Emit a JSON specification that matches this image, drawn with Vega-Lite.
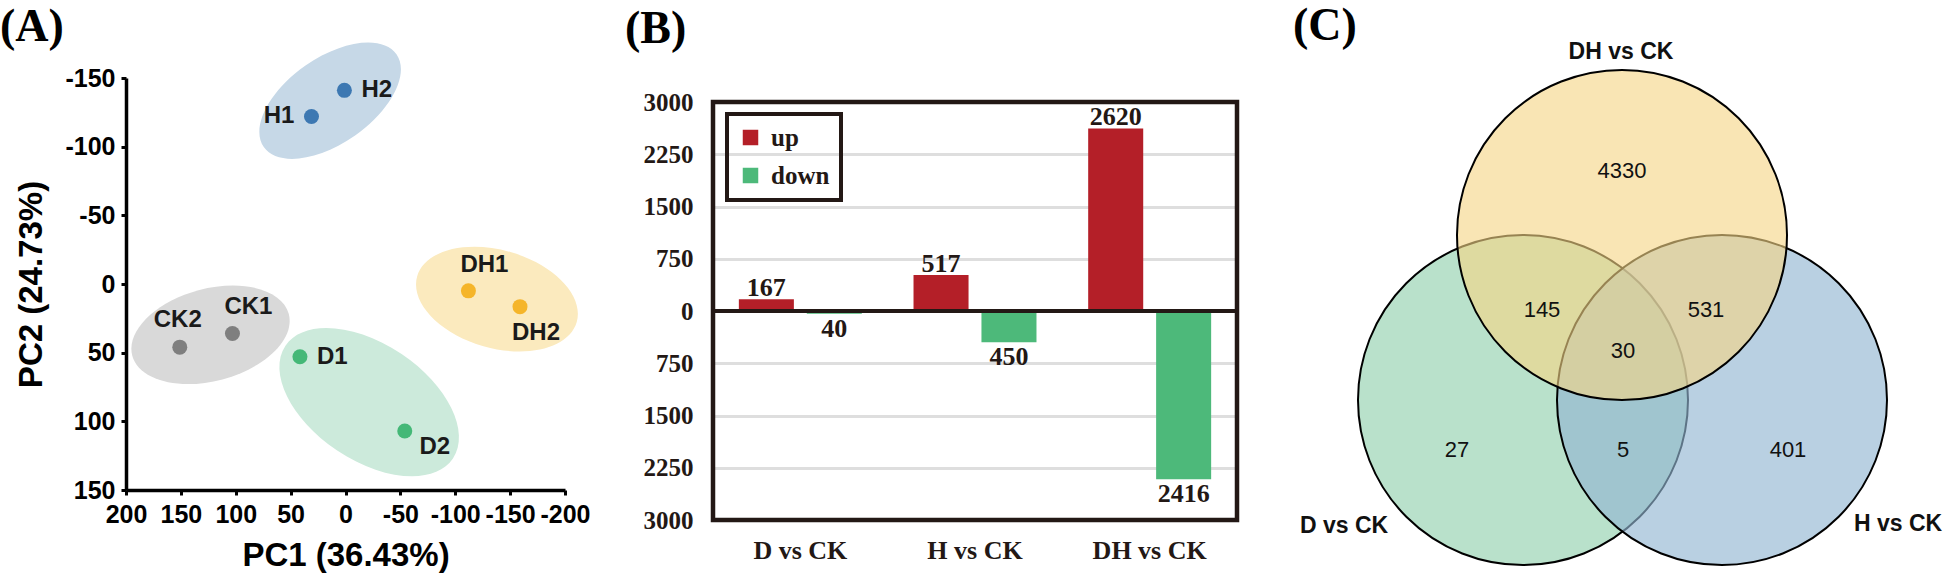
{
  "$schema": "https://vega.github.io/schema/vega-lite/v6.json",
  "padding": {"left": 0, "top": 3, "right": 0, "bottom": 0},
  "background": "white",
  "bounds": "flush",
  "spacing": 148,
  "resolve": {"scale": {"color": "independent"}, "legend": {"color": "independent"}},
  "config": {
    "view": {"stroke": null},
    "title": {"font": "Liberation Serif", "fontSize": 46, "fontWeight": "bold", "color": "black", "anchor": "start", "frame": "group"}
  },
  "datasets": {
    "pca": [
      {"sample": "H1", "group": "H", "x": 31, "y": -122},
      {"sample": "H2", "group": "H", "x": 1, "y": -141},
      {"sample": "CK1", "group": "CK", "x": 103, "y": 36},
      {"sample": "CK2", "group": "CK", "x": 151, "y": 46},
      {"sample": "D1", "group": "D", "x": 41.5, "y": 53},
      {"sample": "D2", "group": "D", "x": -54, "y": 107},
      {"sample": "DH1", "group": "DH", "x": -112, "y": 5},
      {"sample": "DH2", "group": "DH", "x": -159, "y": 16.5}
    ],
    "ell": [
      {"group": "H", "x": 14, "y": -133.5},
      {"group": "CK", "x": 123, "y": 37},
      {"group": "D", "x": -21.6, "y": 86},
      {"group": "DH", "x": -138, "y": 11}
    ],
    "deg": [
      {"cmp": "D vs CK", "dir": "up", "value": 167},
      {"cmp": "D vs CK", "dir": "down", "value": -40},
      {"cmp": "H vs CK", "dir": "up", "value": 517},
      {"cmp": "H vs CK", "dir": "down", "value": -450},
      {"cmp": "DH vs CK", "dir": "up", "value": 2620},
      {"cmp": "DH vs CK", "dir": "down", "value": -2416}
    ],
    "venn": [
      {"set": "D vs CK", "x": 1.38, "y": 3.22},
      {"set": "H vs CK", "x": 3.37, "y": 3.22},
      {"set": "DH vs CK", "x": 2.37, "y": 1.57}
    ],
    "vennnum": [
      {"n": 4330, "x": 2.37, "y": 0.93},
      {"n": 145, "x": 1.57, "y": 2.32},
      {"n": 531, "x": 3.21, "y": 2.32},
      {"n": 30, "x": 2.38, "y": 2.73},
      {"n": 27, "x": 0.72, "y": 3.72},
      {"n": 5, "x": 2.38, "y": 3.72},
      {"n": 401, "x": 4.03, "y": 3.72}
    ],
    "vennlab": [
      {"set": "DH vs CK", "x": 2.36, "y": -0.26},
      {"set": "D vs CK", "x": -0.41, "y": 4.48},
      {"set": "H vs CK", "x": 5.13, "y": 4.46}
    ]
  },
  "hconcat": [
    {
      "width": 439,
      "height": 412,
      "title": {"text": "(A)", "dx": -126, "dy": 9, "offset": 0},
      "encoding": {
        "x": {"field": "x", "type": "quantitative", "title": "PC1 (36.43%)",
          "scale": {"domain": [-200, 200], "reverse": true, "nice": false, "zero": false},
          "axis": {"values": [200, 150, 100, 50, 0, -50, -100, -150, -200], "labelExpr": "toString(datum.value)", "grid": false, "labelFlush": false, "labelOverlap": false,
            "domainColor": "black", "domainWidth": 3.5, "tickColor": "black", "tickWidth": 3, "tickSize": 5,
            "labelFont": "Liberation Sans", "labelFontWeight": "bold", "labelFontSize": 25, "labelColor": "black", "labelPadding": 7,
            "titleFont": "Liberation Sans", "titleFontWeight": "bold", "titleFontSize": 33, "titleColor": "black", "titlePadding": 12}},
        "y": {"field": "y", "type": "quantitative", "title": "PC2 (24.73%)",
          "scale": {"domain": [-150, 150], "reverse": true, "nice": false, "zero": false},
          "axis": {"values": [-150, -100, -50, 0, 50, 100, 150], "labelExpr": "toString(datum.value)", "grid": false, "labelFlush": false, "labelOverlap": false,
            "domainColor": "black", "domainWidth": 3.5, "tickColor": "black", "tickWidth": 3, "tickSize": 5,
            "labelFont": "Liberation Sans", "labelFontWeight": "bold", "labelFontSize": 25, "labelColor": "black", "labelPadding": 6,
            "titleFont": "Liberation Sans", "titleFontWeight": "bold", "titleFontSize": 33, "titleColor": "black", "titlePadding": 16}}
      },
      "layer": [
        {"data": {"name": "ell"}, "transform": [{"filter": "datum.group === 'H'"}],
         "mark": {"type": "point", "shape": "M -1 0 A 1 0.53 0 1 1 1 0 A 1 0.53 0 1 1 -1 0 Z", "size": 26244, "angle": 325, "filled": true, "fill": "#c6d8e7", "opacity": 1, "strokeWidth": 0}},
        {"data": {"name": "ell"}, "transform": [{"filter": "datum.group === 'CK'"}],
         "mark": {"type": "point", "shape": "M -1 0 A 1 0.57 0 1 1 1 0 A 1 0.57 0 1 1 -1 0 Z", "size": 26244, "angle": 345, "filled": true, "fill": "#d9d9d9", "opacity": 1, "strokeWidth": 0}},
        {"data": {"name": "ell"}, "transform": [{"filter": "datum.group === 'D'"}],
         "mark": {"type": "point", "shape": "M -1 0 A 1 0.574 0 1 1 1 0 A 1 0.574 0 1 1 -1 0 Z", "size": 40804, "angle": 34, "filled": true, "fill": "#cceadb", "opacity": 1, "strokeWidth": 0}},
        {"data": {"name": "ell"}, "transform": [{"filter": "datum.group === 'DH'"}],
         "mark": {"type": "point", "shape": "M -1 0 A 1 0.59 0 1 1 1 0 A 1 0.59 0 1 1 -1 0 Z", "size": 27556, "angle": 16, "filled": true, "fill": "#fbeabe", "opacity": 1, "strokeWidth": 0}},
        {"data": {"name": "pca"},
         "mark": {"type": "circle", "size": 225, "opacity": 1},
         "encoding": {"color": {"field": "group", "type": "nominal", "scale": {"domain": ["H", "CK", "D", "DH"], "range": ["#3d78b2", "#7f7f7f", "#44b877", "#f5b52a"]}, "legend": null}}},
        {"data": {"name": "pca"}, "transform": [{"filter": {"field": "sample", "oneOf": ["H2", "D1"]}}],
         "mark": {"type": "text", "align": "left", "baseline": "middle", "dx": 17, "font": "Liberation Sans", "fontWeight": "bold", "fontSize": 24, "color": "#1a1a1a"},
         "encoding": {"text": {"field": "sample"}}},
        {"data": {"name": "pca"}, "transform": [{"filter": {"field": "sample", "oneOf": ["H1"]}}],
         "mark": {"type": "text", "align": "right", "baseline": "middle", "dx": -17, "font": "Liberation Sans", "fontWeight": "bold", "fontSize": 24, "color": "#1a1a1a"},
         "encoding": {"text": {"field": "sample"}}},
        {"data": {"name": "pca"}, "transform": [{"filter": {"field": "sample", "oneOf": ["CK1", "DH1"]}}],
         "mark": {"type": "text", "align": "center", "baseline": "middle", "dx": 16, "dy": -26, "font": "Liberation Sans", "fontWeight": "bold", "fontSize": 24, "color": "#1a1a1a"},
         "encoding": {"text": {"field": "sample"}}},
        {"data": {"name": "pca"}, "transform": [{"filter": {"field": "sample", "oneOf": ["CK2"]}}],
         "mark": {"type": "text", "align": "center", "baseline": "middle", "dx": -2, "dy": -27, "font": "Liberation Sans", "fontWeight": "bold", "fontSize": 24, "color": "#1a1a1a"},
         "encoding": {"text": {"field": "sample"}}},
        {"data": {"name": "pca"}, "transform": [{"filter": {"field": "sample", "oneOf": ["D2"]}}],
         "mark": {"type": "text", "align": "center", "baseline": "middle", "dx": 30, "dy": 16, "font": "Liberation Sans", "fontWeight": "bold", "fontSize": 24, "color": "#1a1a1a"},
         "encoding": {"text": {"field": "sample"}}},
        {"data": {"name": "pca"}, "transform": [{"filter": {"field": "sample", "oneOf": ["DH2"]}}],
         "mark": {"type": "text", "align": "center", "baseline": "middle", "dx": 16, "dy": 26, "font": "Liberation Sans", "fontWeight": "bold", "fontSize": 24, "color": "#1a1a1a"},
         "encoding": {"text": {"field": "sample"}}}
      ]
    },
    {
      "width": 524,
      "height": 442,
      "title": {"text": "(B)", "dx": -88, "dy": -25, "offset": 0},
      "data": {"name": "deg"},
      "transform": [{"calculate": "abs(datum.value)", "as": "label"}],
      "encoding": {
        "x": {"field": "cmp", "type": "nominal", "sort": ["D vs CK", "H vs CK", "DH vs CK"], "title": null,
          "scale": {"paddingInner": 0.296, "paddingOuter": 0.148},
          "axis": {"domain": false, "ticks": false, "labelAngle": 0, "labelPadding": 17,
            "labelFont": "Liberation Serif", "labelFontWeight": "bold", "labelFontSize": 26, "labelColor": "#231815"}},
        "y": {"field": "value", "type": "quantitative", "title": null,
          "scale": {"domain": [-3000, 3344.5], "nice": false, "zero": false},
          "axis": {"values": [-3000, -2250, -1500, -750, 0, 750, 1500, 2250, 3000], "labelExpr": "format(abs(datum.value), 'd')",
            "domain": false, "ticks": false, "labelPadding": 20, "labelFlush": false, "labelOverlap": false,
            "grid": true, "gridColor": "#dedede", "gridWidth": 3,
            "gridOpacity": {"condition": {"test": "abs(datum.value) % 3000 === 0", "value": 0}, "value": 1},
            "labelFont": "Liberation Serif", "labelFontWeight": "bold", "labelFontSize": 25, "labelColor": "#231815"}}
      },
      "layer": [
        {"mark": {"type": "bar", "opacity": 1},
         "encoding": {
           "xOffset": {"field": "dir", "type": "nominal", "sort": ["up", "down"], "scale": {"paddingInner": 0.19, "paddingOuter": 0}},
           "color": {"field": "dir", "type": "nominal", "sort": ["up", "down"], "scale": {"domain": ["up", "down"], "range": ["#b41f28", "#4db97a"]},
             "legend": {"title": null, "orient": "none", "legendX": 14, "legendY": 36, "direction": "vertical",
               "strokeColor": "#231815", "padding": 11, "symbolType": "square", "symbolSize": 240,
               "symbolOpacity": 1, "symbolStrokeWidth": 0, "rowPadding": 12, "labelOffset": 8,
               "labelFont": "Liberation Serif", "labelFontWeight": "bold", "labelFontSize": 25, "labelColor": "#231815",
               "encoding": {"legend": {"strokeWidth": {"value": 4}}}}}
         }},
        {"transform": [{"filter": "datum.dir === 'up'"}],
         "mark": {"type": "text", "baseline": "alphabetic", "dy": -3, "font": "Liberation Serif", "fontWeight": "bold", "fontSize": 26, "color": "#231815"},
         "encoding": {"xOffset": {"field": "dir", "type": "nominal", "sort": ["up", "down"]}, "text": {"field": "label"}}},
        {"transform": [{"filter": "datum.dir === 'down'"}],
         "mark": {"type": "text", "baseline": "top", "dy": 2, "font": "Liberation Serif", "fontWeight": "bold", "fontSize": 26, "color": "#231815"},
         "encoding": {"xOffset": {"field": "dir", "type": "nominal", "sort": ["up", "down"]}, "text": {"field": "label"}}},
        {"data": {"values": [{"value": 0}]},
         "mark": {"type": "rule", "color": "#231815", "strokeWidth": 4},
         "encoding": {"x": null, "y": {"field": "value", "type": "quantitative"}}},
        {"data": {"values": [{"value": 3000, "value2": -3000}]},
         "mark": {"type": "rect", "filled": false, "stroke": "#231815", "strokeWidth": 4.5},
         "encoding": {"x": null, "y": {"field": "value", "type": "quantitative"}, "y2": {"field": "value2"}}}
      ]
    },
    {
      "width": 540,
      "height": 500,
      "title": {"text": "(C)", "dx": -92, "dy": 9, "offset": 0},
      "encoding": {
        "x": {"field": "x", "type": "quantitative", "scale": {"domain": [0, 5.4], "nice": false, "zero": false}, "axis": null},
        "y": {"field": "y", "type": "quantitative", "scale": {"domain": [0, 5], "reverse": true, "nice": false, "zero": false}, "axis": null}
      },
      "layer": [
        {"data": {"name": "venn"}, "transform": [{"filter": "datum.set === 'D vs CK'"}],
         "mark": {"type": "point", "shape": "circle", "size": 108900, "filled": true, "fill": "#b9e1cb", "fillOpacity": 1, "stroke": "black", "strokeWidth": 2, "strokeOpacity": 1, "opacity": 1}},
        {"data": {"name": "venn"}, "transform": [{"filter": "datum.set === 'H vs CK'"}],
         "mark": {"type": "point", "shape": "circle", "size": 108900, "filled": true, "fill": "#92b6d2", "fillOpacity": 0.64, "stroke": "black", "strokeWidth": 2, "strokeOpacity": 1, "opacity": 1}},
        {"data": {"name": "venn"}, "transform": [{"filter": "datum.set === 'DH vs CK'"}],
         "mark": {"type": "point", "shape": "circle", "size": 108900, "filled": true, "fill": "#f5d585", "fillOpacity": 0.614, "stroke": "black", "strokeWidth": 2, "strokeOpacity": 1, "opacity": 1}},
        {"data": {"name": "vennnum"},
         "mark": {"type": "text", "font": "Liberation Sans", "fontSize": 22, "color": "#111111", "baseline": "middle"},
         "encoding": {"text": {"field": "n"}}},
        {"data": {"name": "vennlab"},
         "mark": {"type": "text", "font": "Liberation Sans", "fontSize": 23, "fontWeight": "bold", "color": "#111111", "baseline": "middle"},
         "encoding": {"text": {"field": "set"}}}
      ]
    }
  ]
}
